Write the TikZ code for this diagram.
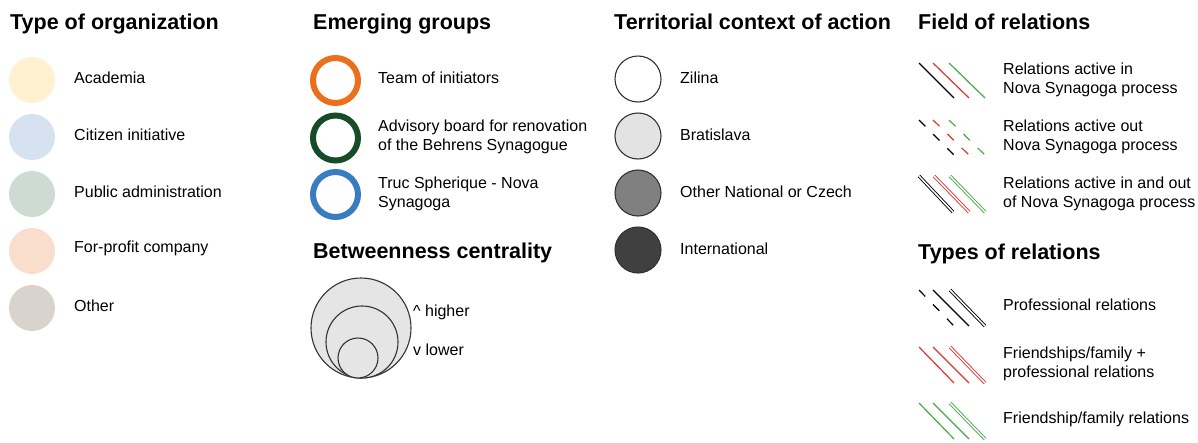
\documentclass[tikz,border=0pt]{standalone}
\usepackage{fontspec}
\setmainfont{Liberation Sans}
\begin{document}
\begin{tikzpicture}[x=1pt,y=-1pt,
  heading/.style={anchor=base west,inner sep=0pt,font=\fontsize{21.5}{25}\selectfont\bfseries},
  lbl/.style={anchor=west,inner sep=0pt,align=left,font=\fontsize{16}{19}\selectfont},
  orgdot/.style={circle,minimum size=46pt,inner sep=0pt,draw=none},
  groupring/.style={circle,minimum size=45pt,inner sep=0pt,line width=6pt,fill=white},
  terrdot/.style={circle,minimum size=46pt,inner sep=0pt,draw=black!80,line width=1.1pt},
  bcircle/.style={draw=black!80,fill=black!10,line width=1.1pt},
  rel/.style={line width=1.2pt},
  reldash/.style={line width=1.2pt,dash pattern=on 9pt off 11pt},
  reldouble/.style={line width=0.9pt,double,double distance=1.5pt}
]
\definecolor{cAcad}{RGB}{255,242,208}
\definecolor{cCiti}{RGB}{214,226,240}
\definecolor{cPubl}{RGB}{205,219,210}
\definecolor{cProf}{RGB}{250,222,205}
\definecolor{cOthe}{RGB}{216,211,204}
\definecolor{cOrange}{RGB}{236,112,28}
\definecolor{cDkGreen}{RGB}{22,76,40}
\definecolor{cBlue}{RGB}{58,124,192}
\definecolor{cRed}{RGB}{224,50,50}
\definecolor{cGreen}{RGB}{70,170,70}

\useasboundingbox (0,0) rectangle (1198,442);

% ---- Type of organization
\node[heading] (hOrg) at (10,29) {Type of organization};
\node[orgdot,fill=cAcad] (o1) at (32,80) {};
\node[orgdot,fill=cCiti] (o2) at (32,137) {};
\node[orgdot,fill=cPubl] (o3) at (32,194) {};
\node[orgdot,fill=cProf] (o4) at (32,251) {};
\node[orgdot,fill=cOthe] (o5) at (32,308) {};
\node[lbl] (to1) at (74,78) {Academia};
\node[lbl] (to2) at (74,135) {Citizen initiative};
\node[lbl] (to3) at (74,192) {Public administration};
\node[lbl] (to4) at (74,248) {For-profit company};
\node[lbl] (to5) at (74,306) {Other};

% ---- Emerging groups
\node[heading] (hGrp) at (313,29) {Emerging groups};
\node[groupring,draw=cOrange] (g1) at (335.5,80.5) {};
\node[groupring,draw=cDkGreen] (g2) at (335.5,138) {};
\node[groupring,draw=cBlue] (g3) at (335.5,194.5) {};
\node[lbl] (tg1) at (378,78) {Team of initiators};
\node[lbl] (tg2) at (378,137) {Advisory board for renovation\\of the Behrens Synagogue};
\node[lbl] (tg3) at (378,194) {Truc Spherique - Nova\\Synagoga};

% ---- Betweenness centrality
\node[heading] (hBet) at (313,258) {Betweenness centrality};
\draw[bcircle] (361,328) circle (50);
\draw[bcircle] (362,342) circle (36);
\draw[bcircle] (358,358) circle (20);
\node[lbl] (tb1) at (413,312) {\^{} higher};
\node[lbl] (tb2) at (413,350) {v lower};

% ---- Territorial context of action
\node[heading] (hTer) at (614,29) {Territorial context of action};
\node[terrdot,fill=white] (t1) at (638,79) {};
\node[terrdot,fill=black!11] (t2) at (638,136) {};
\node[terrdot,fill=black!50] (t3) at (638,193) {};
\node[terrdot,fill=black!75] (t4) at (638,250) {};
\node[lbl] (tt1) at (680,78) {Zilina};
\node[lbl] (tt2) at (680,135) {Bratislava};
\node[lbl] (tt3) at (680,192) {Other National or Czech};
\node[lbl] (tt4) at (680,249) {International};

% ---- Field of relations
\node[heading] (hFld) at (918,29) {Field of relations};
\draw[rel,black] (919,63) -- (954,98);
\draw[rel,cRed] (933,63) -- (969,98);
\draw[rel,cGreen] (949,63) -- (985,98);
\draw[reldash,black] (919,120) -- (954,155);
\draw[reldash,cRed] (933,120) -- (969,155);
\draw[reldash,cGreen] (949,120) -- (985,155);
\draw[reldouble,black] (919,176) -- (953,212);
\draw[reldouble,cRed] (934,176) -- (969,212);
\draw[reldouble,cGreen] (950,176) -- (985,212);
\node[lbl] (tf1) at (1003,80) {Relations active in\\Nova Synagoga process};
\node[lbl] (tf2) at (1003,137) {Relations active out\\Nova Synagoga process};
\node[lbl] (tf3) at (1003,194) {Relations active in and out\\of Nova Synagoga process};

% ---- Types of relations
\node[heading] (hTyp) at (918,259) {Types of relations};
\draw[reldash,black] (919,290) -- (954,326);
\draw[rel,black] (933,290) -- (969,326);
\draw[reldouble,black] (950,290) -- (985,326);
\draw[rel,cRed] (919,347) -- (954,383);
\draw[rel,cRed] (933,347) -- (969,383);
\draw[reldouble,cRed] (950,347) -- (985,383);
\draw[rel,cGreen] (919,403) -- (954,439);
\draw[rel,cGreen] (933,403) -- (969,439);
\draw[reldouble,cGreen] (950,403) -- (985,439);
\node[lbl] (ty1) at (1003,305) {Professional relations};
\node[lbl] (ty2) at (1003,364) {Friendships/family +\\professional relations};
\node[lbl] (ty3) at (1003,419) {Friendship/family relations};
\end{tikzpicture}
\end{document}
